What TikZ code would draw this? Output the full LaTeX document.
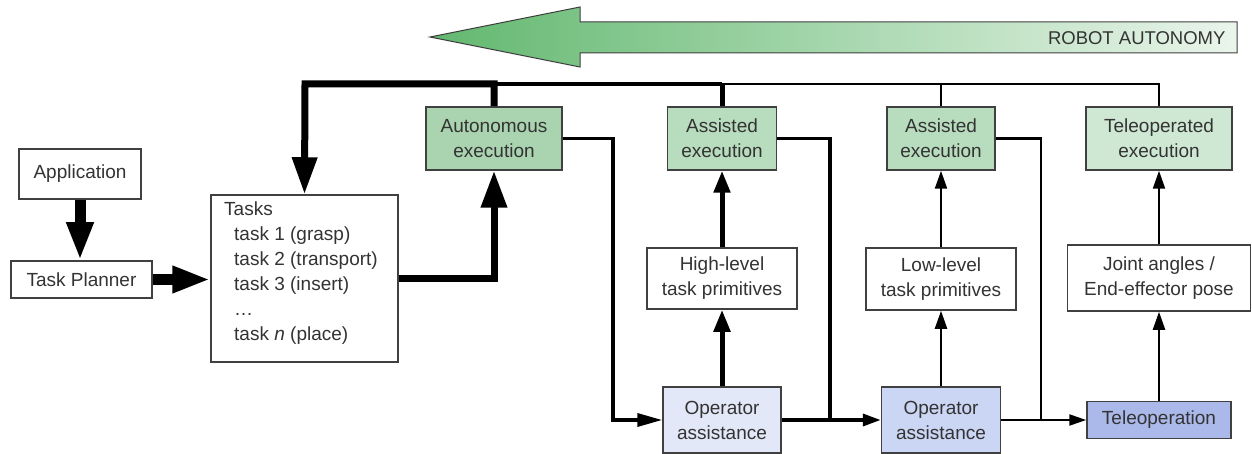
\documentclass[tikz,border=0pt]{standalone}
\usepackage{fontspec}
\setmainfont{Liberation Sans}
\usetikzlibrary{arrows.meta}
\definecolor{txt}{HTML}{333333}
\definecolor{bord}{HTML}{404040}
\definecolor{gA}{HTML}{A9D4AF}
\definecolor{gB}{HTML}{B8DCBE}
\definecolor{gC}{HTML}{CFE8D3}
\definecolor{bA}{HTML}{E3E8F8}
\definecolor{bB}{HTML}{CBD5F4}
\definecolor{bC}{HTML}{ABB9EA}
\definecolor{arrL}{HTML}{62B86F}
\definecolor{arrR}{HTML}{EAF5EB}
\begin{document}
\begin{tikzpicture}[x=1pt,y=-1pt,
  every node/.style={font=\fontsize{19}{25}\selectfont, text=txt},
  box/.style={draw=bord, line width=1.5pt, fill=white, inner sep=0pt, align=center},
  fat/.style={line width=11pt, -{Triangle[length=38pt,width=25pt]}},
  thick7/.style={line width=7pt},
  wide/.style={line width=5pt},
  mid/.style={line width=3.5pt},
  thin/.style={line width=2.2pt},
  tipA/.style={-{Triangle[length=22pt,width=16pt]}},
  tipB/.style={-{Triangle[length=18pt,width=12pt]}},
  tipC/.style={-{Triangle[length=17pt,width=11pt]}}
]
\useasboundingbox (0,0) rectangle (1252,454);
\fill[white] (0,0) rectangle (1252,454);

% Robot autonomy arrow
\shade[left color=arrL, right color=arrR, draw=bord, line width=1pt]
  (430,37) -- (580,7) -- (580,22) -- (1237,22) -- (1237,53) -- (580,53) -- (580,67) -- cycle;
\node[anchor=east, font=\fontsize{18.5}{22}\selectfont] (ra) at (1229,38) {ROBOT AUTONOMY};

% boxes
\node[box, minimum width=122pt, minimum height=50pt] (app) at (80,174) {Application};
\node[box, minimum width=141pt, minimum height=37pt] (tp) at (81.5,279.5) {Task Planner};
\node[box, minimum width=187pt, minimum height=167pt] (tasks) at (304.5,278.5) {};
\node[anchor=north west, align=left, inner sep=0pt] (tasktext) at (224,202)
  {Tasks\\\hspace{10pt}task 1 (grasp)\\\hspace{10pt}task 2 (transport)\\\hspace{10pt}task 3 (insert)\\\hspace{10pt}\ldots\\\hspace{10pt}task \textit{n} (place)};

\node[box, fill=gA, minimum width=136pt, minimum height=63pt] (auto) at (494,138.5) {Autonomous\\execution};
\node[box, fill=gB, minimum width=109pt, minimum height=63pt] (as1) at (722,138.5) {Assisted\\execution};
\node[box, fill=gB, minimum width=108pt, minimum height=63pt] (as2) at (941,138.5) {Assisted\\execution};
\node[box, fill=gC, minimum width=146pt, minimum height=63pt] (tel) at (1159,138.5) {Teleoperated\\execution};

\node[box, minimum width=150pt, minimum height=61pt] (hl) at (722,278.5) {High-level\\task primitives};
\node[box, minimum width=150pt, minimum height=62pt] (ll) at (941,279) {Low-level\\task primitives};
\node[box, minimum width=183pt, minimum height=66pt] (ja) at (1159,278) {Joint angles /\\End-effector pose};

\node[box, fill=bA, minimum width=118pt, minimum height=66pt] (oa1) at (722,420) {Operator\\assistance};
\node[box, fill=bB, minimum width=119pt, minimum height=66pt] (oa2) at (941,420) {Operator\\assistance};
\node[box, fill=bC, minimum width=144pt, minimum height=37pt] (top) at (1159,420) {Teleoperation};

% coordinates
\coordinate (tl) at (305,84);
\coordinate (c1) at (613,420);
\coordinate (c2) at (830,420);
\coordinate (c3) at (1041,420);

% left part
\draw[fat] (app.south) -- (app.south |- tp.north);
\draw[fat] (tp.east) -- (tasks.west |- tp.east);
\draw[thick7, -{Triangle[length=37pt,width=25pt]}] (tasks.east) -| (auto.south);

% top bus
\draw[thin] (tel.north) |- (as1.north |- tl);
\draw[thin] (as2.north) -- (as2.north |- tl);
\draw[wide] (as1.north) -- (as1.north |- tl);
\draw[mid] (as1.north |- tl) -- (auto.north |- tl);
\draw[thick7, -{Triangle[length=37pt,width=24pt]}] (auto.north) |- (tl) -- (tasks.north);

% right side feeds
\draw[mid, -{Triangle[length=25pt,width=13pt]}] (auto.east) -| (c1) -- (oa1.west);
\draw[mid] (as1.east) -| (c2);
\draw[mid, tipB] (oa1.east) -- (oa2.west);
\draw[thin] (as2.east) -| (c3);
\draw[thin, tipC] (oa2.east) -- (top.west);

% vertical chains
\draw[wide, tipA] (oa1.north) -- (hl.south);
\draw[wide, tipA] (hl.north) -- (as1.south);
\draw[thin, tipB] (oa2.north) -- (ll.south);
\draw[thin, tipB] (ll.north) -- (as2.south);
\draw[thin, tipB] (top.north) -- (ja.south);
\draw[thin, tipB] (ja.north) -- (tel.south);
\end{tikzpicture}
\end{document}
